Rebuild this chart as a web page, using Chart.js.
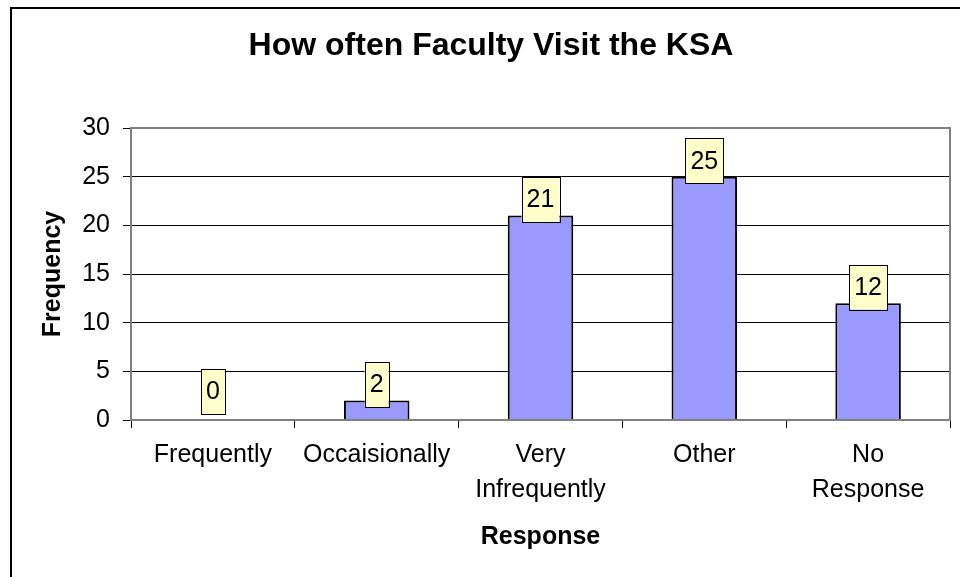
<!DOCTYPE html>
<html>
<head>
<meta charset="utf-8">
<script src="https://cdn.jsdelivr.net/npm/chart.js@4.4.1/dist/chart.umd.min.js"></script>
<style>
  body { margin: 0; background: #fff; overflow: hidden; }
  #wrap { position: relative; width: 960px; height: 577px; }
  #frame {
    position: absolute; left: 10px; top: 7px; width: 1000px; height: 600px;
    border-left: 2px solid #000; border-top: 2px solid #000;
  }
  #grafico { position: absolute; left: 0; top: 0; }
</style>
</head>
<body>
<div id="wrap">
  <div id="frame"></div>
  <canvas id="grafico" width="960" height="577"></canvas>
</div>
<script>
  const categorias = ["Frequently", "Occaisionally", ["Very", "Infrequently"], "Other", ["No", "Response"]];
  const frequencias = [0, 2, 21, 25, 12];
  const ticksY = [0, 5, 10, 15, 20, 25, 30];

  const fonte = "'Liberation Sans', Arial, sans-serif";
  Chart.defaults.color = "#000";
  Chart.defaults.font.family = fonte;

  // caixinhas amarelas com o valor em cima de cada barra
  const rotulos = {
    id: "rotulos",
    afterDatasetsDraw(chart) {
      const ctx = chart.ctx;
      const meta = chart.getDatasetMeta(0);
      ctx.save();
      ctx.font = "25px " + fonte;
      ctx.textAlign = "center";
      ctx.textBaseline = "middle";
      meta.data.forEach((barra, i) => {
        const texto = String(frequencias[i]);
        const w = ctx.measureText(texto).width + 10;
        const h = 45;
        const cx = barra.x;
        // não deixa a caixa passar do eixo x
        const cy = Math.min(barra.y - 16, chart.chartArea.bottom - 6 - h / 2);
        ctx.fillStyle = "#FFFFCC";
        ctx.fillRect(cx - w / 2, cy - h / 2, w, h);
        ctx.strokeStyle = "#000";
        ctx.lineWidth = 1;
        ctx.strokeRect(Math.round(cx - w / 2) + 0.5, Math.round(cy - h / 2) + 0.5, Math.round(w), h);
        ctx.fillStyle = "#000";
        ctx.fillText(texto, cx, cy + 1);
      });
      ctx.restore();
    }
  };

  // moldura cinza da area do grafico
  const moldura = {
    id: "moldura",
    afterDraw(chart) {
      const a = chart.chartArea;
      const ctx = chart.ctx;
      ctx.save();
      ctx.strokeStyle = "#808080";
      ctx.lineWidth = 2;
      ctx.strokeRect(a.left, a.top, a.right - a.left, a.bottom - a.top);
      ctx.restore();
    }
  };

  new Chart(document.getElementById("grafico"), {
    type: "bar",
    data: {
      labels: categorias,
      datasets: [{
        data: frequencias,
        backgroundColor: "#9999FF",
        borderColor: "#000",
        borderWidth: 2,
        barPercentage: 0.4,
        categoryPercentage: 1
      }]
    },
    plugins: [moldura, rotulos],
    options: {
      responsive: false,
      animation: false,
      layout: { padding: { left: 32, right: 10, top: 0, bottom: 0 } },
      plugins: {
        legend: { display: false },
        tooltip: { enabled: false },
        title: {
          display: true,
          text: "How often Faculty Visit the KSA",
          font: { size: 32, weight: "bold" },
          padding: { top: 27, bottom: 62.6 }
        }
      },
      scales: {
        y: {
          min: 0,
          max: 30,
          afterFit(scale) { scale.width = 99; },
          afterBuildTicks(scale) { scale.ticks = ticksY.map(v => ({ value: v })); },
          ticks: { font: { size: 25 }, padding: 13 },
          grid: { color: "#000", lineWidth: 1, tickLength: 8 },
          border: { color: "#808080", width: 2 },
          title: {
            display: true,
            text: "Frequency",
            font: { size: 25, weight: "bold" },
            padding: { top: 6, bottom: 0 }
          }
        },
        x: {
          afterFit(scale) { scale.height = 157; },
          ticks: { font: { size: 25, lineHeight: 1.4 }, padding: 10, maxRotation: 0, autoSkip: false },
          grid: { offset: true, drawOnChartArea: false, color: "#000", tickLength: 8 },
          border: { color: "#808080", width: 2 },
          title: {
            display: true,
            text: "Response",
            font: { size: 25, weight: "bold" },
            padding: { top: 0, bottom: 25 }
          }
        }
      }
    }
  });
</script>
</body>
</html>
